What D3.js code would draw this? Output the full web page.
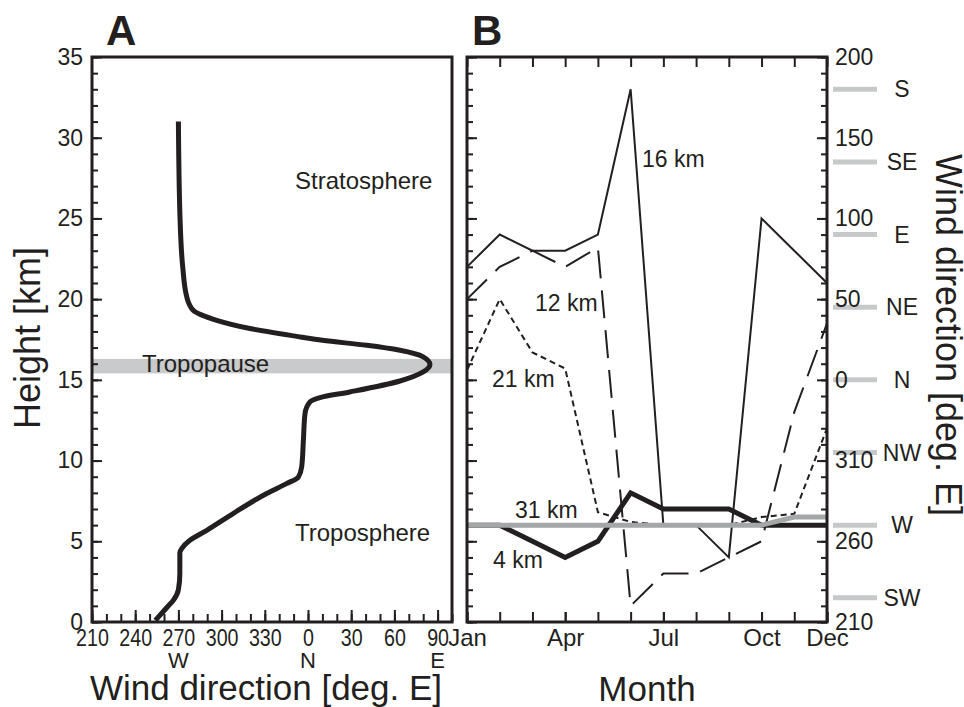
<!DOCTYPE html>
<html>
<head>
<meta charset="utf-8">
<script src="https://cdn.jsdelivr.net/npm/d3@7"></script>
<style>
  body { margin: 0; background: #fff; }
  text { font-family: "Liberation Sans", Arial, Helvetica, sans-serif; fill: #231f20; }
</style>
</head>
<body>
<svg id="chart" width="964" height="707"></svg>
<script>
// ---- panel A: wind direction profile with height
var profileHeight = [0.1, 0.9, 1.35, 2, 3, 4.3, 4.55, 5.06, 5.68, 6.72, 7.96, 8.57, 8.98, 9.6, 11.26, 12.9,
  13.63, 13.9, 14.25, 14.93, 15.49, 15.95, 16.42, 16.83, 17.14, 17.45, 17.66, 18.18, 18.69, 19.31, 20.14, 22, 25.1, 31];
var profileDir = [254, 262, 266.5, 270, 271, 271, 272.3, 278, 289.7, 308, 331.3, 345, 353.3, 355.6, 356.8, 357.9,
  361.4, 368.3, 389, 423.9, 440, 444.7, 440, 423.9, 400.8, 370, 354.4, 319.7, 296.6, 280.3, 275.8, 273, 271.1, 270];
var tropopause = [15.4, 16.3];
var heightTicks = [0, 5, 10, 15, 20, 25, 30, 35];
var dirTicks = [210, 240, 270, 300, 330, 360, 390, 420, 450];
var dirSubNames = ["W", "N", "E"];
var dirSubValues = [270, 360, 450];

// ---- panel B: monthly wind direction at several heights
var months = ["Jan", "Feb", "Mar", "Apr", "May", "Jun", "Jul", "Aug", "Sep", "Oct", "Nov", "Dec"];
var monthTicks = [0, 3, 6, 9, 11];
var dir16 = [70, 90, 80, 80, 90, 180, -90, -90, -110, 100, 80, 60];
var dir12 = [50, 70, 80, 70, 82, -140, -120, -120, -110, -100, -20, 35];
var dir21 = [6, 50, 17, 7, -82, -88, -90, -90, -90, -85, -83, -30];
var dir4  = [-90, -90, -100, -110, -100, -70, -80, -80, -80, -90, -90, -90];
var dir31 = [-90, -90, -90, -90, -90, -90, -90, -90, -90, -90, -85, -85];
var seriesNames = ["16 km", "12 km", "21 km", "4 km", "31 km"];
var rightTicks = [-150, -100, -50, 0, 50, 100, 150, 200];
var compassNames = ["S", "SE", "E", "NE", "N", "NW", "W", "SW"];
var compassValues = [180, 135, 90, 45, 0, -45, -90, -135];

var ink = "#231f20";
var svg = d3.select("#chart");

var yH = d3.scaleLinear().domain([0, 35]).range([622, 57]);
var xA = d3.scaleLinear().domain([210, 460]).range([92, 452]);
var xB = d3.scaleLinear().domain([0, 11]).range([467, 827]);
var yB = d3.scaleLinear().domain([-150, 200]).range([622, 57]);

function styleAxis(g, size) {
  g.attr("font-family", null).attr("font-size", size).style("color", ink);
  g.select(".domain").remove();
  g.selectAll(".tick line").attr("stroke-width", 2);
}

// ================= panel A
var gA = svg.append("g");

gA.append("rect")
  .attr("x", 92).attr("width", 360)
  .attr("y", yH(tropopause[1])).attr("height", yH(tropopause[0]) - yH(tropopause[1]))
  .attr("fill", "#c8cacb");

gA.append("g").attr("transform", "translate(92,0)")
  .call(d3.axisLeft(yH).tickValues(d3.range(0, 36, 1)).tickSize(-6).tickFormat(""))
  .call(styleAxis, 23);
gA.append("g").attr("transform", "translate(92,0)")
  .call(d3.axisLeft(yH).tickValues(heightTicks).tickSize(-10).tickPadding(9))
  .call(styleAxis, 23);

gA.append("g").attr("transform", "translate(0,622)")
  .call(d3.axisBottom(xA).tickValues(d3.range(210, 461, 10)).tickSize(-8).tickFormat(""))
  .call(styleAxis, 24);
var bottomA = gA.append("g").attr("transform", "translate(0,622)")
  .call(d3.axisBottom(xA).tickValues(dirTicks).tickSize(-12).tickPadding(7).tickFormat(function(d){ return d % 360; }))
  .call(styleAxis, 24);
bottomA.selectAll("text").attr("transform", "scale(0.82,1)");

gA.selectAll(".subdir").data(dirSubNames).enter().append("text")
  .attr("class", "subdir")
  .attr("x", function(d, i){ return xA(dirSubValues[i]); })
  .attr("y", 668)
  .attr("text-anchor", "middle")
  .attr("font-size", 22)
  .text(function(d){ return d; });

var profileLine = d3.line()
  .x(function(d){ return xA(d[1]); })
  .y(function(d){ return yH(d[0]); })
  .curve(d3.curveMonotoneY);
gA.append("path")
  .datum(profileHeight.map(function(h, i){ return [h, profileDir[i]]; }))
  .attr("d", profileLine)
  .attr("fill", "none").attr("stroke", ink).attr("stroke-width", 5);

gA.append("text").attr("x", 295).attr("y", 189).attr("font-size", 24).text("Stratosphere");
gA.append("text").attr("x", 142).attr("y", 372).attr("font-size", 24).text("Tropopause");
gA.append("text").attr("x", 295).attr("y", 541).attr("font-size", 24).text("Troposphere");

gA.append("rect").attr("x", 92).attr("y", 57).attr("width", 360).attr("height", 565)
  .attr("fill", "none").attr("stroke", ink).attr("stroke-width", 3);

gA.append("text").attr("x", 106).attr("y", 45).attr("font-size", 42).attr("font-weight", "bold").text("A");
gA.append("text").attr("transform", "translate(40,338) rotate(-90)")
  .attr("text-anchor", "middle").attr("font-size", 36).text("Height [km]");
gA.append("text").attr("x", 266).attr("y", 700)
  .attr("text-anchor", "middle").attr("font-size", 35).text("Wind direction [deg. E]");

// ================= panel B
var gB = svg.append("g");

gB.append("g").attr("transform", "translate(467,0)")
  .call(d3.axisLeft(yB).tickValues(d3.range(-150, 201, 10)).tickSize(-6).tickFormat(""))
  .call(styleAxis, 23);
gB.append("g").attr("transform", "translate(467,0)")
  .call(d3.axisLeft(yB).tickValues(rightTicks).tickSize(-10).tickFormat(""))
  .call(styleAxis, 23);

gB.selectAll(".compassbar").data(compassValues).enter().append("line")
  .attr("class", "compassbar")
  .attr("x1", 833).attr("x2", 877)
  .attr("y1", function(d){ return yB(d); }).attr("y2", function(d){ return yB(d); })
  .attr("stroke", "#c6c9ca").attr("stroke-width", 5);
gB.selectAll(".compass").data(compassNames).enter().append("text")
  .attr("class", "compass")
  .attr("x", 902)
  .attr("y", function(d, i){ return yB(compassValues[i]); })
  .attr("dy", "0.35em")
  .attr("text-anchor", "middle")
  .attr("font-size", 23)
  .text(function(d){ return d; });

gB.append("g").attr("transform", "translate(827,0)")
  .call(d3.axisRight(yB).tickValues(d3.range(-150, 201, 10)).tickSize(-6).tickFormat(""))
  .call(styleAxis, 23);
gB.append("g").attr("transform", "translate(827,0)")
  .call(d3.axisRight(yB).tickValues(rightTicks).tickSize(-10).tickPadding(8)
    .tickFormat(function(d){ return d < 0 ? d + 360 : d; }))
  .call(styleAxis, 23);

gB.append("g").attr("transform", "translate(0,622)")
  .call(d3.axisBottom(xB).tickValues(d3.range(12)).tickSize(-10).tickFormat(""))
  .call(styleAxis, 24);
gB.append("g").attr("transform", "translate(0,622)")
  .call(d3.axisBottom(xB).tickValues(monthTicks).tickSize(-10).tickPadding(7)
    .tickFormat(function(i){ return months[i]; }))
  .call(styleAxis, 24);
gB.append("g").attr("transform", "translate(0,57)")
  .call(d3.axisTop(xB).tickValues(d3.range(12)).tickSize(-10).tickFormat(""))
  .call(styleAxis, 24);

var monthLine = d3.line()
  .x(function(d, i){ return xB(i); })
  .y(function(d){ return yB(d); });

var series = [
  { values: dir16, color: ink, width: 2, dash: null },
  { values: dir12, color: ink, width: 2, dash: "28,12" },
  { values: dir21, color: ink, width: 2, dash: "6,4" },
  { values: dir4,  color: ink, width: 5, dash: null },
  { values: dir31, color: "#a3a7a8", width: 5, dash: null }
];
gB.selectAll(".series").data(series).enter().append("path")
  .attr("class", "series")
  .attr("d", function(d){ return monthLine(d.values); })
  .attr("fill", "none")
  .attr("stroke", function(d){ return d.color; })
  .attr("stroke-width", function(d){ return d.width; })
  .attr("stroke-dasharray", function(d){ return d.dash; })
  .attr("stroke-linejoin", "miter");

var labelPos = [[642, 167], [535, 311], [492, 387], [493, 568], [515, 518]];
gB.selectAll(".slabel").data(seriesNames).enter().append("text")
  .attr("class", "slabel")
  .attr("x", function(d, i){ return labelPos[i][0]; })
  .attr("y", function(d, i){ return labelPos[i][1]; })
  .attr("font-size", 23)
  .text(function(d){ return d; });

gB.append("rect").attr("x", 467).attr("y", 57).attr("width", 360).attr("height", 565)
  .attr("fill", "none").attr("stroke", ink).attr("stroke-width", 3);

gB.append("text").attr("x", 472).attr("y", 45).attr("font-size", 42).attr("font-weight", "bold").text("B");
gB.append("text").attr("x", 647).attr("y", 701)
  .attr("text-anchor", "middle").attr("font-size", 35).text("Month");
gB.append("text").attr("transform", "translate(936,335) rotate(90)")
  .attr("text-anchor", "middle").attr("font-size", 36).text("Wind direction [deg. E]");
</script>
</body>
</html>
